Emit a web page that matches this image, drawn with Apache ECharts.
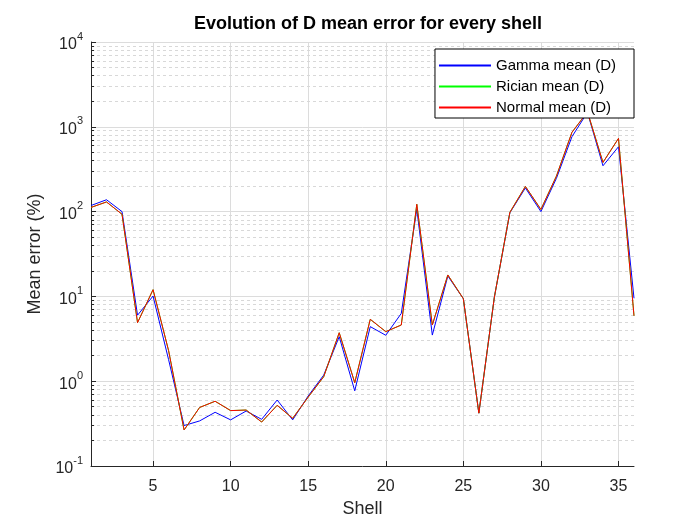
<!DOCTYPE html>
<html>
<head>
<meta charset="utf-8">
<script src="https://cdn.jsdelivr.net/npm/echarts@6/dist/echarts.min.js"></script>
<style>html,body{margin:0;padding:0;background:#fff;}#c{width:700px;height:525px;}</style>
</head>
<body>
<div id="c"></div>
<script>
const shells = [1,2,3,4,5,6,7,8,9,10,11,12,13,14,15,16,17,18,19,20,21,22,23,24,25,26,27,28,29,30,31,32,33,34,35,36];
const gammaMean  = [118,138,100,6.0,10.1,1.8,0.30,0.34,0.43,0.35,0.445,0.355,0.60,0.35,0.67,1.18,3.35,0.77,4.4,3.48,6.3,107,3.5,17.4,9.4,0.42,9.8,97,190,100,247,764,1480,347,582,9.5];
const ricianMean = [112,130,93,4.9,12.0,2.3,0.266,0.49,0.58,0.45,0.457,0.33,0.52,0.365,0.65,1.13,3.73,0.96,5.37,3.84,4.6,122,4.6,17.9,9.4,0.42,9.8,98,198,106,262,860,1500,380,730,5.9];
const normalMean = [112,130,93,4.9,12.0,2.3,0.266,0.49,0.58,0.45,0.457,0.33,0.52,0.365,0.65,1.13,3.73,0.96,5.37,3.84,4.6,122,4.6,17.9,9.4,0.42,9.8,98,198,106,262,860,1500,380,730,5.9];
const xTicks = [5,10,15,20,25,30,35];
const seriesNames = ['Gamma mean (D)','Rician mean (D)','Normal mean (D)'];
const seriesColors = ['#0000ff','#00ff00','#ff0000'];

const minorVals = [];
for (let d = -1; d <= 3; d++) for (let k = 2; k <= 9; k++) minorVals.push(k * Math.pow(10, d));

function pairs(vals){ return shells.map((s,i)=>[s, vals[i]]); }

const FONT = 'Liberation Sans, Arial, Helvetica';

const chart = echarts.init(document.getElementById('c'), null, {renderer:'canvas'});
chart.setOption({
  backgroundColor:'#fff',
  animation:false,
  title:{
    text:'Evolution of D mean error for every shell',
    left:363, top:10, textAlign:'center',
    textStyle:{fontFamily:FONT, fontSize:18, fontWeight:'bold', color:'#000'}
  },
  legend:{
    data:seriesNames,
    orient:'vertical', right:66, top:49, z:10,
    backgroundColor:'#fff', borderColor:'#000', borderWidth:1, borderRadius:0,
    padding:[8,18,2,3], itemGap:4, itemWidth:52, itemHeight:14,
    itemStyle:{opacity:0},
    textStyle:{fontFamily:FONT, fontSize:15, color:'#000', lineHeight:17}
  },
  grid:{left:91, right:66, top:42, bottom:59, containLabel:false},
  xAxis:{
    type:'value', min:1, max:36,
    name:'Shell', nameLocation:'middle', nameGap:33,
    nameTextStyle:{fontFamily:FONT, fontSize:18, color:'#262626'},
    axisLine:{show:true, onZero:false, lineStyle:{color:'#262626', width:1}},
    axisTick:{show:true, inside:true, length:5, customValues:xTicks, lineStyle:{color:'#262626'}},
    axisLabel:{customValues:xTicks, margin:13, fontFamily:FONT, fontSize:16, color:'#262626'},
    splitLine:{show:true, lineStyle:{color:'#dcdcdc', width:1}}
  },
  yAxis:{
    type:'log', logBase:10, min:0.1, max:10000,
    name:'Mean error (%)', nameLocation:'middle', nameGap:44,
    nameTextStyle:{fontFamily:FONT, fontSize:18, color:'#262626'},
    axisLine:{show:true, lineStyle:{color:'#262626', width:1}},
    axisTick:{show:true, inside:true, length:5, lineStyle:{color:'#262626'}},
    axisLabel:{
      margin:8,
      formatter:function(v){ const e = Math.round(Math.log10(v)); return '{b|10}{s|' + e + '}'; },
      rich:{
        b:{fontFamily:FONT, fontSize:16, color:'#262626', padding:[6,0,0,0]},
        s:{fontFamily:FONT, fontSize:11, color:'#262626', verticalAlign:'top', padding:[0,0,8,0]}
      }
    },
    splitLine:{show:true, lineStyle:{color:'#dcdcdc', width:1}}
  },
  series:[
    {
      name:'grid-minor', type:'line', data:[], z:0, silent:true, symbol:'none',
      markLine:{
        silent:true, symbol:['none','none'], animation:false, z:0,
        label:{show:false},
        lineStyle:{color:'#d8d8d8', width:1, type:[3,3]},
        emphasis:{disabled:true},
        data: minorVals.map(v=>({yAxis:v}))
      }
    },
    {
      name:'grid-minor-ticks', type:'line', data:[], z:3, silent:true, symbol:'none',
      markLine:{
        silent:true, symbol:['none','none'], animation:false, z:3,
        label:{show:false},
        lineStyle:{color:'#262626', width:1, type:'solid'},
        emphasis:{disabled:true},
        data: minorVals.map(v=>[{coord:[1, v]},{coord:[1.2, v]}])
      }
    },
    {name:seriesNames[0], type:'line', data:pairs(gammaMean), symbol:'none', showSymbol:false, z:2,
     lineStyle:{color:seriesColors[0], width:1}, itemStyle:{color:seriesColors[0]}},
    {name:seriesNames[1], type:'line', data:pairs(ricianMean), symbol:'none', showSymbol:false, z:2,
     lineStyle:{color:seriesColors[1], width:1}, itemStyle:{color:seriesColors[1]}},
    {name:seriesNames[2], type:'line', data:pairs(normalMean), symbol:'none', showSymbol:false, z:2,
     lineStyle:{color:seriesColors[2], width:1}, itemStyle:{color:seriesColors[2]}}
  ]
});
</script>
</body>
</html>
